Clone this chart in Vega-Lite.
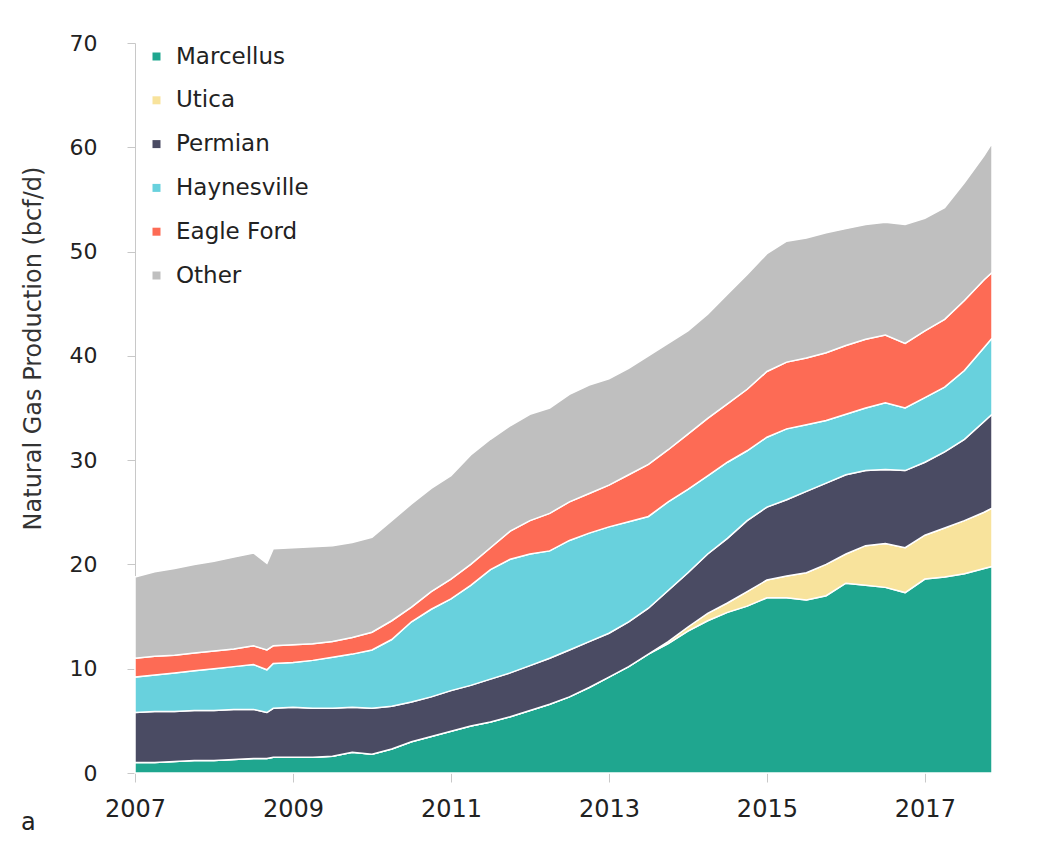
{
  "$schema": "https://vega.github.io/schema/vega-lite/v6.json",
  "width": 857,
  "height": 730,
  "autosize": {"type": "none"},
  "padding": {"left": 135, "top": 43, "right": 61, "bottom": 68},
  "background": "white",
  "config": {"font": "DejaVu Sans", "view": {"stroke": null}},
  "title": {"text": "a", "orient": "bottom", "anchor": "start", "frame": "bounds", "fontSize": 24, "fontWeight": "normal", "color": "#222", "offset": -10},
  "data": {"values": [
    {"year":2007.00,"region":"Marcellus","value":1.0},{"year":2007.00,"region":"Utica","value":0},{"year":2007.00,"region":"Permian","value":4.8},{"year":2007.00,"region":"Haynesville","value":3.4},{"year":2007.00,"region":"Eagle Ford","value":1.8},{"year":2007.00,"region":"Other","value":7.8},
    {"year":2007.25,"region":"Marcellus","value":1.0},{"year":2007.25,"region":"Utica","value":0},{"year":2007.25,"region":"Permian","value":4.9},{"year":2007.25,"region":"Haynesville","value":3.5},{"year":2007.25,"region":"Eagle Ford","value":1.8},{"year":2007.25,"region":"Other","value":8.1},
    {"year":2007.50,"region":"Marcellus","value":1.1},{"year":2007.50,"region":"Utica","value":0},{"year":2007.50,"region":"Permian","value":4.8},{"year":2007.50,"region":"Haynesville","value":3.7},{"year":2007.50,"region":"Eagle Ford","value":1.7},{"year":2007.50,"region":"Other","value":8.3},
    {"year":2007.75,"region":"Marcellus","value":1.2},{"year":2007.75,"region":"Utica","value":0},{"year":2007.75,"region":"Permian","value":4.8},{"year":2007.75,"region":"Haynesville","value":3.8},{"year":2007.75,"region":"Eagle Ford","value":1.7},{"year":2007.75,"region":"Other","value":8.5},
    {"year":2008.00,"region":"Marcellus","value":1.2},{"year":2008.00,"region":"Utica","value":0},{"year":2008.00,"region":"Permian","value":4.8},{"year":2008.00,"region":"Haynesville","value":4.0},{"year":2008.00,"region":"Eagle Ford","value":1.7},{"year":2008.00,"region":"Other","value":8.6},
    {"year":2008.25,"region":"Marcellus","value":1.3},{"year":2008.25,"region":"Utica","value":0},{"year":2008.25,"region":"Permian","value":4.8},{"year":2008.25,"region":"Haynesville","value":4.1},{"year":2008.25,"region":"Eagle Ford","value":1.7},{"year":2008.25,"region":"Other","value":8.8},
    {"year":2008.50,"region":"Marcellus","value":1.4},{"year":2008.50,"region":"Utica","value":0},{"year":2008.50,"region":"Permian","value":4.7},{"year":2008.50,"region":"Haynesville","value":4.3},{"year":2008.50,"region":"Eagle Ford","value":1.8},{"year":2008.50,"region":"Other","value":8.9},
    {"year":2008.67,"region":"Marcellus","value":1.4},{"year":2008.67,"region":"Utica","value":0},{"year":2008.67,"region":"Permian","value":4.4},{"year":2008.67,"region":"Haynesville","value":4.1},{"year":2008.67,"region":"Eagle Ford","value":1.9},{"year":2008.67,"region":"Other","value":8.3},
    {"year":2008.75,"region":"Marcellus","value":1.5},{"year":2008.75,"region":"Utica","value":0},{"year":2008.75,"region":"Permian","value":4.7},{"year":2008.75,"region":"Haynesville","value":4.3},{"year":2008.75,"region":"Eagle Ford","value":1.7},{"year":2008.75,"region":"Other","value":9.3},
    {"year":2009.00,"region":"Marcellus","value":1.5},{"year":2009.00,"region":"Utica","value":0},{"year":2009.00,"region":"Permian","value":4.8},{"year":2009.00,"region":"Haynesville","value":4.3},{"year":2009.00,"region":"Eagle Ford","value":1.7},{"year":2009.00,"region":"Other","value":9.3},
    {"year":2009.25,"region":"Marcellus","value":1.5},{"year":2009.25,"region":"Utica","value":0},{"year":2009.25,"region":"Permian","value":4.7},{"year":2009.25,"region":"Haynesville","value":4.6},{"year":2009.25,"region":"Eagle Ford","value":1.6},{"year":2009.25,"region":"Other","value":9.3},
    {"year":2009.50,"region":"Marcellus","value":1.6},{"year":2009.50,"region":"Utica","value":0},{"year":2009.50,"region":"Permian","value":4.6},{"year":2009.50,"region":"Haynesville","value":4.9},{"year":2009.50,"region":"Eagle Ford","value":1.5},{"year":2009.50,"region":"Other","value":9.2},
    {"year":2009.75,"region":"Marcellus","value":2.0},{"year":2009.75,"region":"Utica","value":0},{"year":2009.75,"region":"Permian","value":4.3},{"year":2009.75,"region":"Haynesville","value":5.1},{"year":2009.75,"region":"Eagle Ford","value":1.6},{"year":2009.75,"region":"Other","value":9.1},
    {"year":2010.00,"region":"Marcellus","value":1.8},{"year":2010.00,"region":"Utica","value":0},{"year":2010.00,"region":"Permian","value":4.4},{"year":2010.00,"region":"Haynesville","value":5.6},{"year":2010.00,"region":"Eagle Ford","value":1.7},{"year":2010.00,"region":"Other","value":9.1},
    {"year":2010.25,"region":"Marcellus","value":2.3},{"year":2010.25,"region":"Utica","value":0},{"year":2010.25,"region":"Permian","value":4.1},{"year":2010.25,"region":"Haynesville","value":6.4},{"year":2010.25,"region":"Eagle Ford","value":1.8},{"year":2010.25,"region":"Other","value":9.6},
    {"year":2010.50,"region":"Marcellus","value":3.0},{"year":2010.50,"region":"Utica","value":0},{"year":2010.50,"region":"Permian","value":3.8},{"year":2010.50,"region":"Haynesville","value":7.7},{"year":2010.50,"region":"Eagle Ford","value":1.4},{"year":2010.50,"region":"Other","value":9.9},
    {"year":2010.75,"region":"Marcellus","value":3.5},{"year":2010.75,"region":"Utica","value":0},{"year":2010.75,"region":"Permian","value":3.8},{"year":2010.75,"region":"Haynesville","value":8.4},{"year":2010.75,"region":"Eagle Ford","value":1.7},{"year":2010.75,"region":"Other","value":9.9},
    {"year":2011.00,"region":"Marcellus","value":4.0},{"year":2011.00,"region":"Utica","value":0},{"year":2011.00,"region":"Permian","value":3.9},{"year":2011.00,"region":"Haynesville","value":8.8},{"year":2011.00,"region":"Eagle Ford","value":1.9},{"year":2011.00,"region":"Other","value":9.9},
    {"year":2011.25,"region":"Marcellus","value":4.5},{"year":2011.25,"region":"Utica","value":0},{"year":2011.25,"region":"Permian","value":3.9},{"year":2011.25,"region":"Haynesville","value":9.6},{"year":2011.25,"region":"Eagle Ford","value":2.0},{"year":2011.25,"region":"Other","value":10.5},
    {"year":2011.50,"region":"Marcellus","value":4.9},{"year":2011.50,"region":"Utica","value":0},{"year":2011.50,"region":"Permian","value":4.1},{"year":2011.50,"region":"Haynesville","value":10.5},{"year":2011.50,"region":"Eagle Ford","value":2.1},{"year":2011.50,"region":"Other","value":10.4},
    {"year":2011.75,"region":"Marcellus","value":5.4},{"year":2011.75,"region":"Utica","value":0},{"year":2011.75,"region":"Permian","value":4.2},{"year":2011.75,"region":"Haynesville","value":10.9},{"year":2011.75,"region":"Eagle Ford","value":2.7},{"year":2011.75,"region":"Other","value":10.1},
    {"year":2012.00,"region":"Marcellus","value":6.0},{"year":2012.00,"region":"Utica","value":0},{"year":2012.00,"region":"Permian","value":4.3},{"year":2012.00,"region":"Haynesville","value":10.7},{"year":2012.00,"region":"Eagle Ford","value":3.2},{"year":2012.00,"region":"Other","value":10.2},
    {"year":2012.25,"region":"Marcellus","value":6.6},{"year":2012.25,"region":"Utica","value":0},{"year":2012.25,"region":"Permian","value":4.4},{"year":2012.25,"region":"Haynesville","value":10.3},{"year":2012.25,"region":"Eagle Ford","value":3.6},{"year":2012.25,"region":"Other","value":10.1},
    {"year":2012.50,"region":"Marcellus","value":7.3},{"year":2012.50,"region":"Utica","value":0},{"year":2012.50,"region":"Permian","value":4.5},{"year":2012.50,"region":"Haynesville","value":10.5},{"year":2012.50,"region":"Eagle Ford","value":3.7},{"year":2012.50,"region":"Other","value":10.3},
    {"year":2012.75,"region":"Marcellus","value":8.2},{"year":2012.75,"region":"Utica","value":0},{"year":2012.75,"region":"Permian","value":4.4},{"year":2012.75,"region":"Haynesville","value":10.4},{"year":2012.75,"region":"Eagle Ford","value":3.8},{"year":2012.75,"region":"Other","value":10.4},
    {"year":2013.00,"region":"Marcellus","value":9.2},{"year":2013.00,"region":"Utica","value":0},{"year":2013.00,"region":"Permian","value":4.2},{"year":2013.00,"region":"Haynesville","value":10.2},{"year":2013.00,"region":"Eagle Ford","value":4.0},{"year":2013.00,"region":"Other","value":10.2},
    {"year":2013.25,"region":"Marcellus","value":10.2},{"year":2013.25,"region":"Utica","value":0},{"year":2013.25,"region":"Permian","value":4.3},{"year":2013.25,"region":"Haynesville","value":9.6},{"year":2013.25,"region":"Eagle Ford","value":4.5},{"year":2013.25,"region":"Other","value":10.2},
    {"year":2013.50,"region":"Marcellus","value":11.4},{"year":2013.50,"region":"Utica","value":0},{"year":2013.50,"region":"Permian","value":4.4},{"year":2013.50,"region":"Haynesville","value":8.8},{"year":2013.50,"region":"Eagle Ford","value":5.0},{"year":2013.50,"region":"Other","value":10.4},
    {"year":2013.75,"region":"Marcellus","value":12.4},{"year":2013.75,"region":"Utica","value":0.2},{"year":2013.75,"region":"Permian","value":4.9},{"year":2013.75,"region":"Haynesville","value":8.5},{"year":2013.75,"region":"Eagle Ford","value":5.0},{"year":2013.75,"region":"Other","value":10.2},
    {"year":2014.00,"region":"Marcellus","value":13.6},{"year":2014.00,"region":"Utica","value":0.4},{"year":2014.00,"region":"Permian","value":5.2},{"year":2014.00,"region":"Haynesville","value":8.0},{"year":2014.00,"region":"Eagle Ford","value":5.3},{"year":2014.00,"region":"Other","value":9.9},
    {"year":2014.25,"region":"Marcellus","value":14.6},{"year":2014.25,"region":"Utica","value":0.7},{"year":2014.25,"region":"Permian","value":5.7},{"year":2014.25,"region":"Haynesville","value":7.5},{"year":2014.25,"region":"Eagle Ford","value":5.5},{"year":2014.25,"region":"Other","value":10.0},
    {"year":2014.50,"region":"Marcellus","value":15.4},{"year":2014.50,"region":"Utica","value":0.9},{"year":2014.50,"region":"Permian","value":6.2},{"year":2014.50,"region":"Haynesville","value":7.3},{"year":2014.50,"region":"Eagle Ford","value":5.6},{"year":2014.50,"region":"Other","value":10.5},
    {"year":2014.75,"region":"Marcellus","value":16.0},{"year":2014.75,"region":"Utica","value":1.4},{"year":2014.75,"region":"Permian","value":6.8},{"year":2014.75,"region":"Haynesville","value":6.7},{"year":2014.75,"region":"Eagle Ford","value":5.9},{"year":2014.75,"region":"Other","value":11.0},
    {"year":2015.00,"region":"Marcellus","value":16.8},{"year":2015.00,"region":"Utica","value":1.7},{"year":2015.00,"region":"Permian","value":7.0},{"year":2015.00,"region":"Haynesville","value":6.7},{"year":2015.00,"region":"Eagle Ford","value":6.3},{"year":2015.00,"region":"Other","value":11.3},
    {"year":2015.25,"region":"Marcellus","value":16.8},{"year":2015.25,"region":"Utica","value":2.1},{"year":2015.25,"region":"Permian","value":7.3},{"year":2015.25,"region":"Haynesville","value":6.8},{"year":2015.25,"region":"Eagle Ford","value":6.4},{"year":2015.25,"region":"Other","value":11.6},
    {"year":2015.50,"region":"Marcellus","value":16.6},{"year":2015.50,"region":"Utica","value":2.6},{"year":2015.50,"region":"Permian","value":7.8},{"year":2015.50,"region":"Haynesville","value":6.4},{"year":2015.50,"region":"Eagle Ford","value":6.4},{"year":2015.50,"region":"Other","value":11.5},
    {"year":2015.75,"region":"Marcellus","value":17.0},{"year":2015.75,"region":"Utica","value":3.0},{"year":2015.75,"region":"Permian","value":7.8},{"year":2015.75,"region":"Haynesville","value":6.0},{"year":2015.75,"region":"Eagle Ford","value":6.5},{"year":2015.75,"region":"Other","value":11.5},
    {"year":2016.00,"region":"Marcellus","value":18.2},{"year":2016.00,"region":"Utica","value":2.8},{"year":2016.00,"region":"Permian","value":7.6},{"year":2016.00,"region":"Haynesville","value":5.8},{"year":2016.00,"region":"Eagle Ford","value":6.6},{"year":2016.00,"region":"Other","value":11.2},
    {"year":2016.25,"region":"Marcellus","value":18.0},{"year":2016.25,"region":"Utica","value":3.8},{"year":2016.25,"region":"Permian","value":7.2},{"year":2016.25,"region":"Haynesville","value":6.0},{"year":2016.25,"region":"Eagle Ford","value":6.6},{"year":2016.25,"region":"Other","value":11.0},
    {"year":2016.50,"region":"Marcellus","value":17.8},{"year":2016.50,"region":"Utica","value":4.2},{"year":2016.50,"region":"Permian","value":7.1},{"year":2016.50,"region":"Haynesville","value":6.4},{"year":2016.50,"region":"Eagle Ford","value":6.5},{"year":2016.50,"region":"Other","value":10.8},
    {"year":2016.75,"region":"Marcellus","value":17.3},{"year":2016.75,"region":"Utica","value":4.3},{"year":2016.75,"region":"Permian","value":7.4},{"year":2016.75,"region":"Haynesville","value":6.0},{"year":2016.75,"region":"Eagle Ford","value":6.2},{"year":2016.75,"region":"Other","value":11.4},
    {"year":2017.00,"region":"Marcellus","value":18.6},{"year":2017.00,"region":"Utica","value":4.2},{"year":2017.00,"region":"Permian","value":7.0},{"year":2017.00,"region":"Haynesville","value":6.2},{"year":2017.00,"region":"Eagle Ford","value":6.4},{"year":2017.00,"region":"Other","value":10.8},
    {"year":2017.25,"region":"Marcellus","value":18.8},{"year":2017.25,"region":"Utica","value":4.7},{"year":2017.25,"region":"Permian","value":7.3},{"year":2017.25,"region":"Haynesville","value":6.2},{"year":2017.25,"region":"Eagle Ford","value":6.5},{"year":2017.25,"region":"Other","value":10.7},
    {"year":2017.50,"region":"Marcellus","value":19.1},{"year":2017.50,"region":"Utica","value":5.1},{"year":2017.50,"region":"Permian","value":7.8},{"year":2017.50,"region":"Haynesville","value":6.6},{"year":2017.50,"region":"Eagle Ford","value":6.7},{"year":2017.50,"region":"Other","value":11.3},
    {"year":2017.75,"region":"Marcellus","value":19.6},{"year":2017.75,"region":"Utica","value":5.4},{"year":2017.75,"region":"Permian","value":8.7},{"year":2017.75,"region":"Haynesville","value":7.1},{"year":2017.75,"region":"Eagle Ford","value":6.5},{"year":2017.75,"region":"Other","value":11.9},
    {"year":2017.85,"region":"Marcellus","value":19.8},{"year":2017.85,"region":"Utica","value":5.6},{"year":2017.85,"region":"Permian","value":9.0},{"year":2017.85,"region":"Haynesville","value":7.3},{"year":2017.85,"region":"Eagle Ford","value":6.3},{"year":2017.85,"region":"Other","value":12.4}
  ]},
  "transform": [
    {"calculate": "indexof(['Marcellus','Utica','Permian','Haynesville','Eagle Ford','Other'], datum.region)", "as": "stackOrder"}
  ],
  "mark": {"type": "area", "stroke": "white", "strokeWidth": 1.5, "interpolate": "linear"},
  "encoding": {
    "x": {
      "field": "year", "type": "quantitative",
      "scale": {"domain": [2007, 2017.85], "nice": false, "zero": false},
      "axis": {"title": null, "values": [2007, 2009, 2011, 2013, 2015, 2017], "format": "d", "domain": false, "grid": false, "ticks": true, "tickColor": "#c8c8c8", "tickSize": 9, "labelFontSize": 24, "labelColor": "#222", "labelPadding": 15, "labelFlush": false}
    },
    "y": {
      "field": "value", "type": "quantitative", "stack": "zero",
      "scale": {"domain": [0, 70], "nice": false},
      "axis": {"title": "Natural Gas Production (bcf/d)", "titleFontSize": 24, "titleFontWeight": "normal", "titleColor": "#333", "titleX": -102, "titleY": 305, "titleAlign": "center", "titleBaseline": "middle", "titleAngle": -90, "values": [0, 10, 20, 30, 40, 50, 60, 70], "grid": false, "domain": true, "domainColor": "#c8c8c8", "tickColor": "#c8c8c8", "tickSize": 8, "labelFontSize": 22, "labelColor": "#222", "labelPadding": 30}
    },
    "order": {"field": "stackOrder", "type": "quantitative", "sort": "ascending"},
    "color": {
      "field": "region", "type": "nominal",
      "sort": ["Marcellus", "Utica", "Permian", "Haynesville", "Eagle Ford", "Other"],
      "scale": {"domain": ["Marcellus", "Utica", "Permian", "Haynesville", "Eagle Ford", "Other"], "range": ["#1fa68f", "#f8e39c", "#4a4b63", "#68d1dd", "#fd6b55", "#bfbfbf"]},
      "legend": {"title": null, "orient": "none", "legendX": 10, "legendY": 2, "symbolType": "square", "symbolSize": 64, "symbolStrokeWidth": 0, "labelFontSize": 23, "labelColor": "#222", "labelOffset": 8, "rowPadding": 19.8}
    }
  }
}
